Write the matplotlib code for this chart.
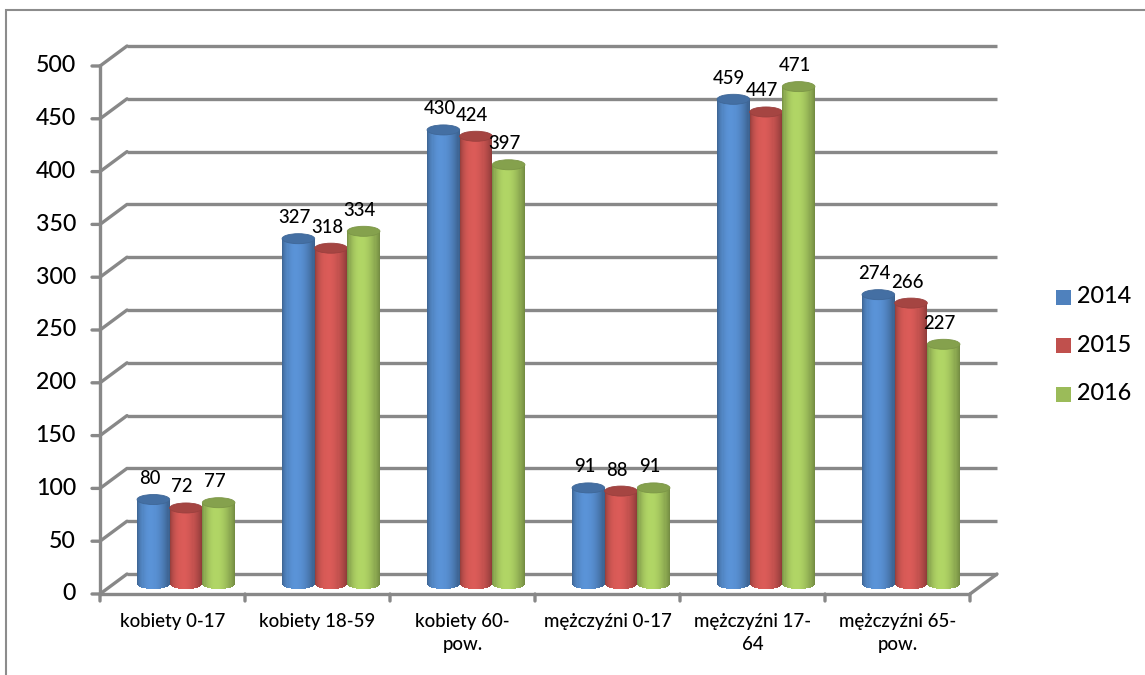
import numpy as np
import matplotlib
matplotlib.use("Agg")
import matplotlib.pyplot as plt
from matplotlib.patches import Ellipse, Rectangle
from matplotlib.transforms import offset_copy
from matplotlib.colors import to_rgb

categories = ["kobiety 0-17", "kobiety 18-59", "kobiety 60-\npow.",
              "mężczyźni 0-17", "mężczyźni 17-\n64", "mężczyźni 65-\npow."]
series_names = ["2014", "2015", "2016"]
values_2014 = [80, 327, 430, 91, 459, 274]
values_2015 = [72, 318, 424, 88, 447, 266]
values_2016 = [77, 334, 397, 91, 471, 227]
y_ticks = [0, 50, 100, 150, 200, 250, 300, 350, 400, 450, 500]
colors = ["#4F81BD", "#C0504D", "#9BBB59"]

plt.rcParams['font.family'] = ['Lato', 'DejaVu Sans']
plt.rcParams['font.weight'] = 'medium'

W, H = 1145, 675
fig = plt.figure(figsize=(W / 100, H / 100), dpi=100)
fig.patch.set_facecolor("white")
renderer = fig.canvas.get_renderer()


def fit_size(sample, target_px):
    t = fig.text(0, 0, sample, fontsize=10)
    w = t.get_window_extent(renderer=renderer).width
    t.remove()
    return 10 * target_px / w


fs_y = fit_size("500", 40)
fs_cat = fit_size("kobiety 18-59", 117)
fs_val = fit_size("327", 32)
fs_leg = fit_size("2014", 54)

# outer border
fig.add_artist(Rectangle((6 / W, -0.1), 1.2, (H - 10) / H + 0.1, transform=fig.transFigure,
                         fill=False, edgecolor="#8c8c8c", linewidth=1.5))

x0, x1 = 100, 970
y0, y1 = 594, 66
ax = fig.add_axes([x0 / W, (H - y0) / H, (x1 - x0) / W, (y0 - y1) / H])
ax.set_xlim(0, len(categories))
ax.set_ylim(0, 500)
ax.axis("off")

grid_c = "#888888"
glw = 2.4
back = offset_copy(ax.transData, fig=fig, x=27, y=20, units="dots")
mid = offset_copy(ax.transData, fig=fig, x=13.5, y=10, units="dots")
ylab_t = offset_copy(ax.transData, fig=fig, x=-24, y=0, units="dots")
xlab_t = offset_copy(ax.transData, fig=fig, x=0, y=-19, units="dots")

n = len(categories)
for v in y_ticks:
    ax.plot([0, n], [v, v], transform=back, color=grid_c, lw=glw, clip_on=False,
            solid_capstyle="butt", zorder=1)
    ax.annotate("", xy=(0, v), xycoords=back, xytext=(0, v), textcoords=ax.transData,
                arrowprops=dict(arrowstyle="-", color=grid_c, lw=glw, shrinkA=0, shrinkB=0),
                zorder=1, annotation_clip=False)
    ax.annotate("", xy=(0, v), xycoords=ax.transData, xytext=(-8, 0), textcoords="offset pixels",
                arrowprops=dict(arrowstyle="-", color=grid_c, lw=glw, shrinkA=0, shrinkB=0),
                zorder=1, annotation_clip=False)
    ax.text(0, v, str(v), transform=ylab_t, ha="right", va="center", fontsize=fs_y,
            color="black", clip_on=False)
ax.annotate("", xy=(n, 0), xycoords=back, xytext=(n, 0), textcoords=ax.transData,
            arrowprops=dict(arrowstyle="-", color=grid_c, lw=glw, shrinkA=0, shrinkB=0),
            zorder=1, annotation_clip=False)
ax.plot([0, 0], [0, 500], color=grid_c, lw=glw, clip_on=False, zorder=1)
ax.plot([0, n], [0, 0], color=grid_c, lw=glw, clip_on=False, zorder=5, solid_capstyle="butt")
for i in range(n + 1):
    ax.annotate("", xy=(i, 0), xycoords=ax.transData, xytext=(0, -7), textcoords="offset pixels",
                arrowprops=dict(arrowstyle="-", color=grid_c, lw=glw, shrinkA=0, shrinkB=0),
                zorder=1, annotation_clip=False)
for i, c in enumerate(categories):
    ax.text(i + 0.5, 0, c, transform=xlab_t, ha="center", va="top", fontsize=fs_cat,
            linespacing=1.45, clip_on=False)

# cylinders
all_vals = [values_2014, values_2015, values_2016]
bw = 0.225
ell_h = 9.5
nstrip = 30
ts = (np.arange(nstrip) + 0.5) / nstrip


def shade(t):
    return 0.72 + 0.42 * np.clip(np.sin(np.pi * (t ** 0.8)), 0, 1) ** 0.8


for si, (vals, col) in enumerate(zip(all_vals, colors)):
    base = np.array(to_rgb(col))
    for ci, v in enumerate(vals):
        xc = ci + 0.5 + (si - 1) * bw
        left = xc - bw / 2
        sw = bw / nstrip
        for t in ts:
            depth = ell_h / 2 * np.sqrt(max(0.0, 1 - (2 * t - 1) ** 2))
            c = np.clip(base * shade(t), 0, 1)
            ax.bar(left + t * bw, v + depth, width=sw * 1.05, bottom=-depth, color=c,
                   linewidth=0, transform=mid, zorder=3 + si * 0.1, clip_on=False)
        top = Ellipse((xc, v), bw, ell_h, transform=mid, facecolor=np.clip(base * 0.86, 0, 1),
                      edgecolor=np.clip(base * 0.8, 0, 1), linewidth=0.6, zorder=3.05 + si * 0.1,
                      clip_on=False)
        ax.add_patch(top)
        ax.annotate(str(v), xy=(xc, v), xycoords=mid, xytext=(-4, 21), textcoords="offset pixels",
                    ha="center", va="center", fontsize=fs_val, zorder=6, annotation_clip=False)

# legend
for si, (name, col) in enumerate(zip(series_names, colors)):
    yc = 297 + si * 48.5
    fig.add_artist(Rectangle((1056 / W, (H - yc - 7.5) / H), 15 / W, 15 / H,
                             transform=fig.transFigure, facecolor=col, edgecolor="none"))
    fig.text(1077 / W, (H - yc) / H, name, ha="left", va="center", fontsize=fs_leg)

fig.savefig("out.png", dpi=100)
